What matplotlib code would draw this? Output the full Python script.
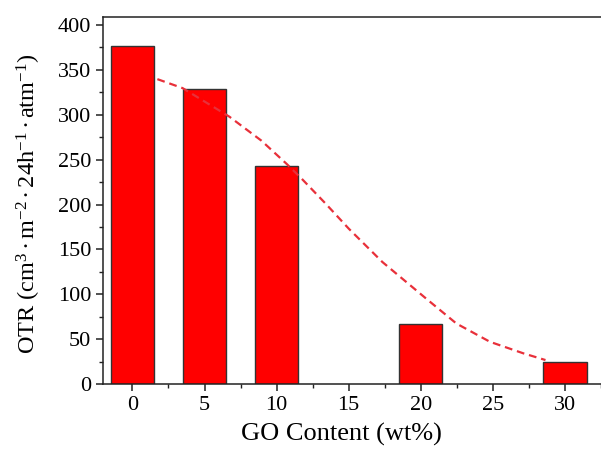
import numpy as np
import matplotlib.pyplot as plt
from matplotlib.ticker import MultipleLocator

plt.rcParams['font.family'] = 'Liberation Serif'
plt.rcParams['mathtext.fontset'] = 'custom'
plt.rcParams['mathtext.rm'] = 'Liberation Serif'
plt.rcParams['mathtext.it'] = 'Liberation Serif:italic'

# Bar data: GO content (wt%) vs OTR
go_content = [0, 5, 10, 20, 30]
otr = [377, 329, 243, 67, 25]

# Dashed fit curve
fit_x = [1.73, 3.48, 6.73, 8.95, 10.70, 11.75, 13.4, 15.01, 17.34, 20.37,
         22.47, 24.80, 27.13, 28.65]
fit_y = [339.7, 329.7, 297.8, 271.1, 245.2, 228.6, 201.0, 173.0, 135.9, 95.2,
         67.4, 47.0, 34.1, 26.7]

fig = plt.figure(figsize=(6.01, 4.53), dpi=100)
ax = fig.add_axes([0.1714, 0.1523, 0.8286, 0.8095])

ax.bar(go_content, otr, width=3, color='#ff0000', edgecolor='#333333',
       linewidth=1.0, zorder=2)
ax.plot(fit_x, fit_y, linestyle=(0, (3.5, 2.2)), color='#e8303a',
        linewidth=1.6, zorder=3)

ax.set_xlim(-2.04, 32.5)
ax.set_ylim(0, 408.6)
ax.xaxis.set_major_locator(MultipleLocator(5))
ax.xaxis.set_minor_locator(MultipleLocator(2.5))
ax.yaxis.set_major_locator(MultipleLocator(50))
ax.yaxis.set_minor_locator(MultipleLocator(25))

ax.spines['right'].set_visible(False)
for s in ['left', 'bottom', 'top']:
    ax.spines[s].set_linewidth(1.1)
    ax.spines[s].set_color('#222222')

ax.tick_params(axis='both', which='major', direction='out', length=5,
               width=1.1, labelsize=16, color='#222222')
ax.tick_params(axis='both', which='minor', direction='out', length=3,
               width=1.0, color='#222222')
ax.tick_params(top=False, right=False, which='both')

ax.set_xlabel('GO Content (wt%)', fontsize=19)
ax.xaxis.set_label_coords(0.479, -0.105)
ax.set_ylabel(r'OTR (cm$^{3}\,$·$\,$m$^{-2}\,$·$\,$24h$^{-1}\,$·$\,$atm$^{-1}$)',
              fontsize=17.5)
ax.yaxis.set_label_coords(-0.12, 0.49)

fig.savefig('out.png', dpi=100)
